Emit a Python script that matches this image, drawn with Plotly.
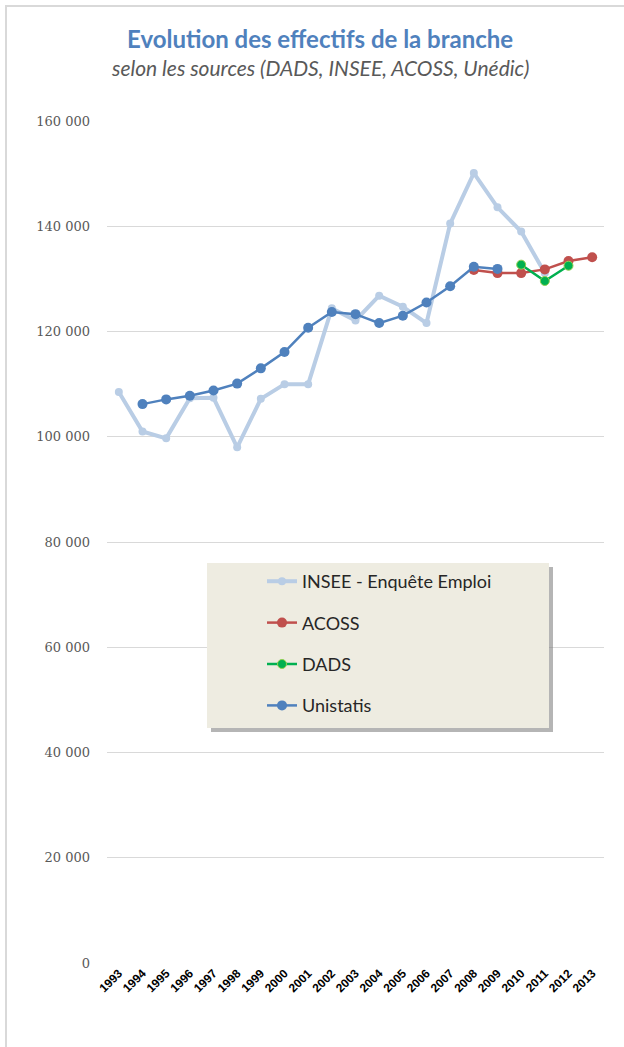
import plotly.graph_objects as go

years = [str(y) for y in range(1993, 2014)]

# INSEE - Enquête Emploi, 1993-2011
insee_years = years[:19]
insee = [108500, 101000, 99700, 107300, 107400, 98000, 107200, 110000, 110000,
         124400, 122100, 126800, 124700, 121600, 140500, 150100, 143600, 139000, 131100]

# ACOSS, 2008-2013
acoss_years = years[15:]
acoss = [131700, 131100, 131100, 131800, 133400, 134100]

# DADS, 2010-2012
dads_years = years[17:20]
dads = [132700, 129600, 132500]

# Unistatis, 1994-2009
uni_years = years[1:17]
unistatis = [106200, 107100, 107800, 108800, 110100, 113000, 116100, 120700,
             123700, 123300, 121600, 123000, 125500, 128600, 132300, 131900]

fig = go.Figure()

fig.add_trace(go.Scatter(
    x=insee_years, y=insee, name='INSEE - Enquête Emploi', legendgroup='a',
    mode='lines+markers', line=dict(color='#B9CDE5', width=4),
    marker=dict(size=8, color='#B9CDE5')))
fig.add_trace(go.Scatter(
    x=acoss_years, y=acoss, name='ACOSS', legendgroup='b',
    mode='lines+markers', line=dict(color='#C0504D', width=2.5),
    marker=dict(size=10, color='#C0504D')))
fig.add_trace(go.Scatter(
    x=dads_years, y=dads, name='DADS', legendgroup='c',
    mode='lines+markers', line=dict(color='#00B050', width=2.5),
    marker=dict(size=9, color='#00B050', line=dict(color='#92D050', width=1))))
fig.add_trace(go.Scatter(
    x=uni_years, y=unistatis, name='Unistatis', legendgroup='d',
    mode='lines+markers', line=dict(color='#4F81BD', width=2.5),
    marker=dict(size=10, color='#4F81BD')))

# plot area in pixels: x 107..604, y 121..963
def px(x):
    return (x - 107) / 497

def py(y):
    return (963 - y) / 842

shapes = [
    # outer chart border
    dict(type='rect', xref='paper', yref='paper', x0=px(6), x1=px(640), y0=py(6), y1=py(1080),
         line=dict(color='#D9D9D9', width=2), fillcolor='rgba(0,0,0,0)', layer='below'),
    # legend shadow
    dict(type='rect', xref='paper', yref='paper', x0=px(211), x1=px(553), y0=py(732), y1=py(567),
         line=dict(width=0), fillcolor='rgba(120,120,120,0.55)', layer='above'),
    # legend box
    dict(type='rect', xref='paper', yref='paper', x0=px(207), x1=px(549), y0=py(728), y1=py(563),
         line=dict(width=0), fillcolor='#EEECE1', layer='above'),
]

fig.update_layout(
    width=624, height=1047,
    margin=dict(l=107, r=20, t=121, b=84),
    paper_bgcolor='white', plot_bgcolor='white',
    separators=', ',
    showlegend=True,
    legend=dict(
        x=px(262), y=py(563), xanchor='left', yanchor='top',
        bgcolor='rgba(0,0,0,0)', font=dict(family='Lato', size=18, color='#262626'),
        tracegroupgap=15, traceorder='grouped',
    ),
    shapes=shapes,
    xaxis=dict(
        type='category', categoryorder='array', categoryarray=years,
        range=[-0.5, 20.5], showgrid=False, showline=False, zeroline=False,
        tickangle=-45, tickfont=dict(family='Liberation Sans', size=12, color='black', weight='bold'),
        ticks='',
    ),
    yaxis=dict(
        range=[0, 160000], dtick=20000, tickformat=',d',
        showgrid=True, gridcolor='#D9D9D9', gridwidth=1, zeroline=False, showline=False,
        tickfont=dict(family='DejaVu Serif', size=13, color='#595959'),
        ticklabelstandoff=16,
    ),
    annotations=[
        dict(text='<b>Evolution des effectifs de la branche</b>', xref='paper', yref='paper',
             x=px(320), y=py(38), xanchor='center', yanchor='middle', showarrow=False,
             font=dict(family='Lato', size=24, color='#4F81BD')),
        dict(text='<i>selon les sources (DADS, INSEE, ACOSS, Unédic)</i>', xref='paper', yref='paper',
             x=px(320), y=py(67), xanchor='center', yanchor='middle', showarrow=False,
             font=dict(family='Lato', size=21, color='#595959')),
    ],
)

# the page body has a default margin; drop it so the figure sits at the window origin
fig.write_html('out.html', config={'displayModeBar': False},
               post_script="document.body.style.margin='0';")
